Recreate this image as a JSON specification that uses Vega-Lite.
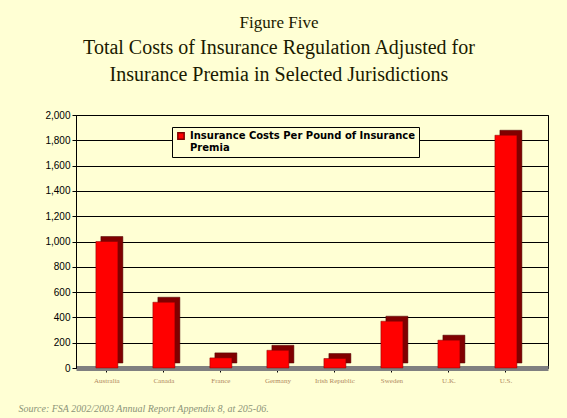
{
  "$schema": "https://vega.github.io/schema/vega-lite/v6.json",
  "autosize": {"type": "none"},
  "width": 472,
  "height": 253,
  "padding": {"left": 76, "top": 115, "right": 19, "bottom": 50},
  "background": "#FFFFD4",
  "title": {
    "text": "Figure Five",
    "subtitle": ["Total Costs of Insurance Regulation Adjusted for", "Insurance Premia in Selected Jurisdictions"],
    "anchor": "middle",
    "dx": -33,
    "font": "Liberation Serif",
    "fontSize": 17,
    "fontWeight": "normal",
    "color": "#1a1a00",
    "subtitleFont": "Liberation Serif",
    "subtitleFontSize": 20,
    "subtitleColor": "#1a1a00",
    "subtitleLineHeight": 27,
    "subtitlePadding": 6,
    "offset": 24
  },
  "data": {
    "values": [
      {"country": "Australia", "cost": 1000, "series": "Insurance Costs Per Pound of Insurance Premia"},
      {"country": "Canada", "cost": 520, "series": "Insurance Costs Per Pound of Insurance Premia"},
      {"country": "France", "cost": 80, "series": "Insurance Costs Per Pound of Insurance Premia"},
      {"country": "Germany", "cost": 140, "series": "Insurance Costs Per Pound of Insurance Premia"},
      {"country": "Irish Republic", "cost": 75, "series": "Insurance Costs Per Pound of Insurance Premia"},
      {"country": "Sweden", "cost": 370, "series": "Insurance Costs Per Pound of Insurance Premia"},
      {"country": "U.K.", "cost": 220, "series": "Insurance Costs Per Pound of Insurance Premia"},
      {"country": "U.S.", "cost": 1840, "series": "Insurance Costs Per Pound of Insurance Premia"}
    ]
  },
  "encoding": {
    "x": {
      "field": "country",
      "type": "nominal",
      "sort": null,
      "scale": {"paddingInner": 0.614, "paddingOuter": 0.447, "align": 0.39},
      "axis": {
        "labelAngle": 0,
        "labelFontSize": 7,
        "labelColor": "#B08860",
        "labelFont": "Liberation Serif",
        "domainColor": "#808080",
        "domainWidth": 5,
        "tickColor": "#000000",
        "tickSize": 4,
        "labelPadding": 4,
        "title": "Source: FSA 2002/2003 Annual Report Appendix 8, at 205-06.",
        "titleFont": "Liberation Serif",
        "titleFontStyle": "italic",
        "titleFontWeight": "normal",
        "titleFontSize": 10,
        "titleColor": "#8C9478",
        "titleAnchor": "start",
        "titleAlign": "left",
        "titleBaseline": "middle",
        "titleX": -58,
        "titleY": 40
      }
    },
    "y": {
      "field": "cost",
      "type": "quantitative",
      "scale": {"domain": [0, 2000]},
      "axis": {
        "values": [0, 200, 400, 600, 800, 1000, 1200, 1400, 1600, 1800, 2000],
        "format": ",.0f",
        "title": null,
        "labelFont": "Liberation Sans",
        "labelFontSize": 10,
        "labelColor": "#000000",
        "domainColor": "#000000",
        "tickColor": "#000000",
        "tickSize": 4,
        "labelPadding": 2,
        "grid": true,
        "gridColor": "#000000",
        "gridWidth": 1
      }
    }
  },
  "layer": [
    {
      "mark": {"type": "bar", "color": "#800000", "xOffset": 5, "yOffset": -5, "stroke": "#4a0000", "strokeWidth": 0.5}
    },
    {
      "mark": {"type": "bar", "stroke": "#800000", "strokeWidth": 0.5},
      "encoding": {
        "color": {
          "field": "series",
          "type": "nominal",
          "scale": {"range": ["#FF0000"]},
          "legend": {
            "title": null,
            "orient": "none",
            "legendX": 96,
            "legendY": 12,
            "fillColor": "#FFFFD4",
            "strokeColor": "#000000",
            "padding": 4,
            "symbolType": "square",
            "symbolSize": 40,
            "symbolFillColor": "#C00000",
            "symbolStrokeColor": "#800000",
            "labelFont": "DejaVu Sans",
            "labelFontSize": 10,
            "labelFontWeight": "bold",
            "labelColor": "#000000",
            "labelLimit": 300,
            "labelExpr": "['Insurance Costs Per Pound of Insurance', 'Premia']"
          }
        }
      }
    }
  ],
  "config": {
    "view": {"stroke": "#000000", "strokeWidth": 1}
  }
}
